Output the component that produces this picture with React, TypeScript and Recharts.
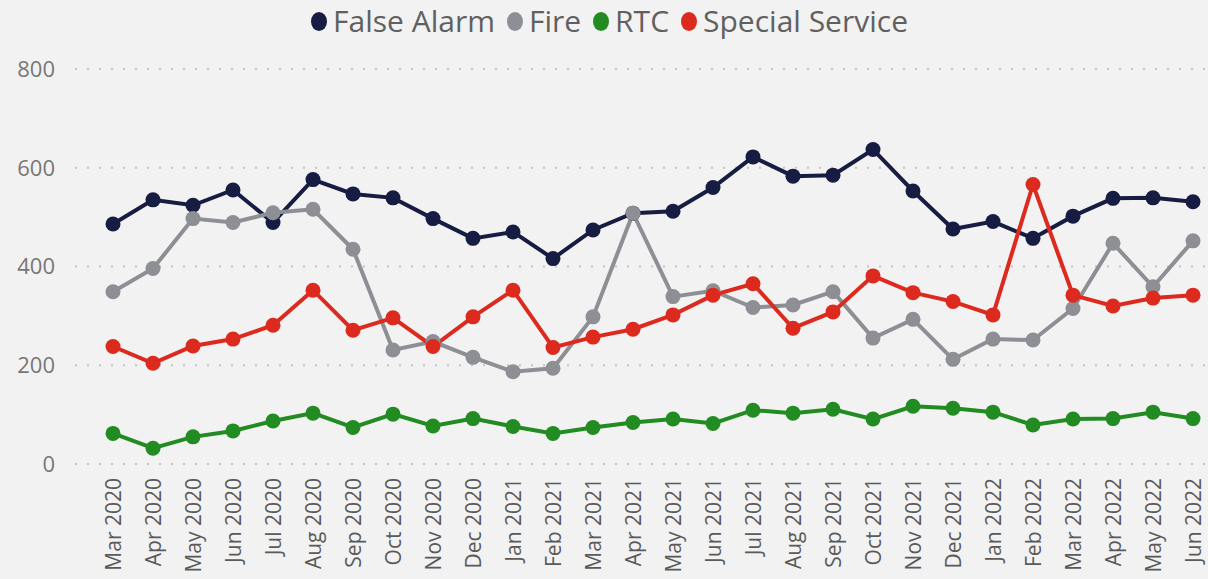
import {
  LineChart, Line, XAxis, YAxis, CartesianGrid, Legend,
} from 'recharts'

const months = [
  'Mar 2020', 'Apr 2020', 'May 2020', 'Jun 2020', 'Jul 2020', 'Aug 2020', 'Sep 2020',
  'Oct 2020', 'Nov 2020', 'Dec 2020', 'Jan 2021', 'Feb 2021', 'Mar 2021', 'Apr 2021',
  'May 2021', 'Jun 2021', 'Jul 2021', 'Aug 2021', 'Sep 2021', 'Oct 2021', 'Nov 2021',
  'Dec 2021', 'Jan 2022', 'Feb 2022', 'Mar 2022', 'Apr 2022', 'May 2022', 'Jun 2022',
]

const falseAlarm = [
  486, 535, 524, 555, 489, 576, 547, 539, 497, 457, 470, 416, 474, 508,
  512, 560, 622, 583, 585, 637, 553, 476, 491, 457, 502, 538, 539, 531,
]
const fire = [
  349, 396, 497, 489, 509, 516, 435, 231, 248, 216, 187, 194, 298, 508,
  339, 351, 317, 322, 349, 255, 293, 212, 253, 251, 315, 447, 359, 452,
]
const rtc = [
  62, 32, 55, 67, 87, 103, 74, 101, 77, 92, 76, 62, 74, 84,
  91, 82, 109, 103, 111, 91, 117, 113, 105, 79, 91, 92, 105, 92,
]
const specialService = [
  238, 204, 239, 253, 281, 352, 271, 296, 238, 298, 352, 236, 257, 273,
  302, 342, 365, 275, 308, 381, 347, 329, 302, 566, 342, 320, 336, 342,
]

const yTicks = [0, 200, 400, 600, 800]

const series = [
  { key: 'False Alarm', values: falseAlarm, color: '#171d42' },
  { key: 'Fire', values: fire, color: '#8d8f95' },
  { key: 'RTC', values: rtc, color: '#228b22' },
  { key: 'Special Service', values: specialService, color: '#dc2a1f' },
]

const data = months.map((m, i) => {
  const row: Record<string, string | number> = { mes: m }
  series.forEach(s => { row[s.key] = s.values[i] })
  return row
})

const FONT = '"Open Sans", "Noto Sans", sans-serif'

function MonthTick({ x, y, payload }: any) {
  return (
    <g transform={`translate(${x},${y})`}>
      <text
        x={0}
        y={0}
        dy="0.36em"
        textAnchor="end"
        transform="rotate(-90)"
        fontSize={21}
        fontFamily={FONT}
        fill="#5a5a5a"
      >
        {payload.value}
      </text>
    </g>
  )
}

function Leyenda() {
  return (
    <div style={{ display: 'flex', justifyContent: 'center', alignItems: 'center', fontFamily: FONT, fontSize: 30, color: '#606060', lineHeight: '38px' }}>
      {series.map(s => (
        <span key={s.key} style={{ display: 'inline-flex', alignItems: 'center', marginRight: 12 }}>
          <svg width={16} height={19} style={{ marginRight: 6 }}>
            <ellipse cx={8} cy={9.5} rx={8} ry={9.5} fill={s.color} />
          </svg>
          {s.key}
        </span>
      ))}
    </div>
  )
}

export default function App() {
  return (
    <div style={{ position: 'absolute', left: 0, top: 0, width: 1208, height: 579, overflow: 'hidden', background: '#f2f2f2' }}>
      <LineChart width={1240} height={579} data={data} margin={{ top: 31, right: 9, left: 0, bottom: 0 }}>
        <CartesianGrid vertical={false} stroke="#c4c4c4" strokeDasharray="2 10" strokeWidth={2} />
        <XAxis
          dataKey="mes"
          interval={0}
          axisLine={false}
          tickLine={false}
          height={115}
          tick={<MonthTick />}
          tickMargin={8}
          padding={{ left: 38, right: 38 }}
        />
        <YAxis
          domain={[0, 800]}
          ticks={yTicks}
          width={75}
          axisLine={false}
          tickLine={false}
          tickMargin={14}
          tick={{ fontSize: 22, fill: '#777', fontFamily: FONT }}
        />
        <Legend verticalAlign="top" wrapperStyle={{ top: 2 }} content={<Leyenda />} />
        {series.map(s => (
          <Line
            key={s.key}
            dataKey={s.key}
            name={s.key}
            stroke={s.color}
            strokeWidth={4}
            dot={{ r: 7.5, fill: s.color, stroke: s.color, strokeWidth: 0 }}
            activeDot={false}
            isAnimationActive={false}
          />
        ))}
      </LineChart>
    </div>
  )
}
